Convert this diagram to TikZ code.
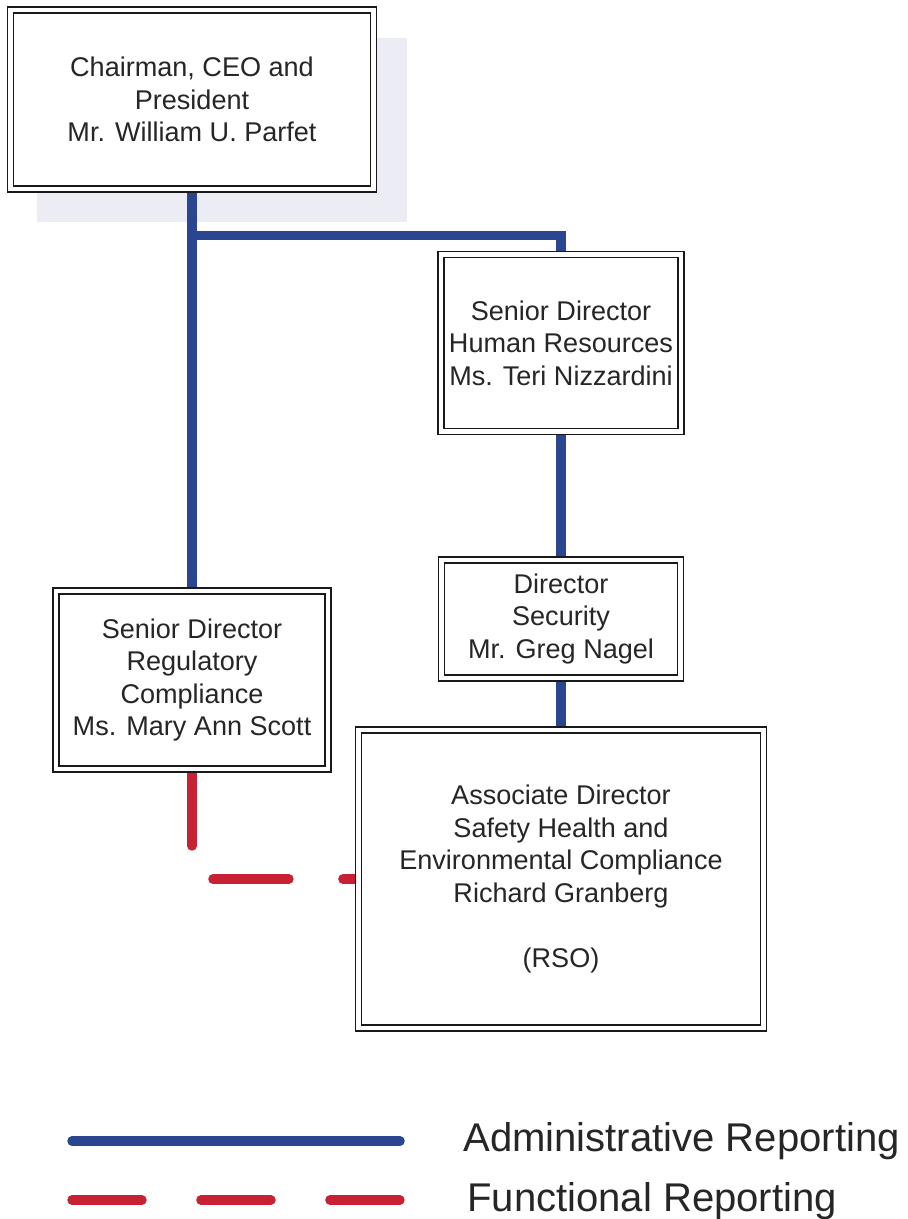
\documentclass[tikz,border=0pt]{standalone}
\usepackage{fontspec}
\setmainfont{Liberation Sans}
\usepackage{xcolor}
\usetikzlibrary{backgrounds}

\definecolor{adminblue}{RGB}{42,70,145}
\definecolor{funcred}{RGB}{200,32,52}
\definecolor{shadegray}{RGB}{236,236,244}

\begin{document}
\begin{tikzpicture}[x=0.02cm, y=-0.02cm,
  orgbox/.style={draw=black!90, double=white, double distance=0.09cm, line width=0.03cm,
    fill=white, align=center, inner sep=0pt, text=black!85,
    font=\fontsize{15.4}{18.5}\selectfont},
  admin/.style={adminblue, line width=0.19cm},
  func/.style={funcred, line width=0.19cm, line cap=round, dash pattern=on 1.52cm off 1.08cm},
  legendtext/.style={anchor=west, inner sep=0pt, text=black!85, font=\fontsize{22.8}{26}\selectfont}]

  \useasboundingbox (0,0) rectangle (908,1219);

  % boxes
  \node[orgbox, minimum width=7.27cm, minimum height=3.58cm] (ceo) at (192,99.5)
    {Chairman, CEO and\\President\\Mr. William U. Parfet};
  \node[orgbox, minimum width=4.8cm, minimum height=3.55cm] (hr) at (561,343)
    {Senior Director\\Human Resources\\Ms. Teri Nizzardini};
  \node[orgbox, minimum width=4.79cm, minimum height=2.36cm] (sec) at (561,619)
    {Director\\Security\\Mr. Greg Nagel};
  \node[orgbox, minimum width=5.44cm, minimum height=3.57cm] (rc) at (192,680)
    {Senior Director\\Regulatory\\Compliance\\Ms. Mary Ann Scott};
  \node[orgbox, minimum width=8.11cm, minimum height=5.97cm] (rso) at (561,879)
    {Associate Director\\Safety Health and\\Environmental Compliance\\Richard Granberg\\[18.5pt](RSO)};

  % shadow and connectors behind the boxes
  \begin{scope}[on background layer]
    \fill[shadegray] (37,38) rectangle (407,222);
    \draw[admin] (ceo.south) -- (ceo.south |- rc.north);
    \draw[admin] (ceo.south) ++(0,46) -| (hr.north);
    \draw[admin] (hr.south) -- (sec.north);
    \draw[admin] (sec.south) -- (rso.north);
    \draw[func] (rc.south) |- (rso.west);
  \end{scope}

  % legend
  \coordinate (adminA) at (72,1141);
  \coordinate (adminB) at (400,1141);
  \coordinate (funcA) at (72,1200);
  \coordinate (funcB) at (400,1200);
  \draw[admin, line cap=round] (adminA) -- (adminB);
  \draw[func, dash pattern=on 1.4cm off 1.18cm] (funcA) -- (funcB);
  \node[legendtext] (adminlabel) at (463,1141) {Administrative Reporting};
  \node[legendtext] (funclabel) at (467,1201) {Functional Reporting};
\end{tikzpicture}
\end{document}
